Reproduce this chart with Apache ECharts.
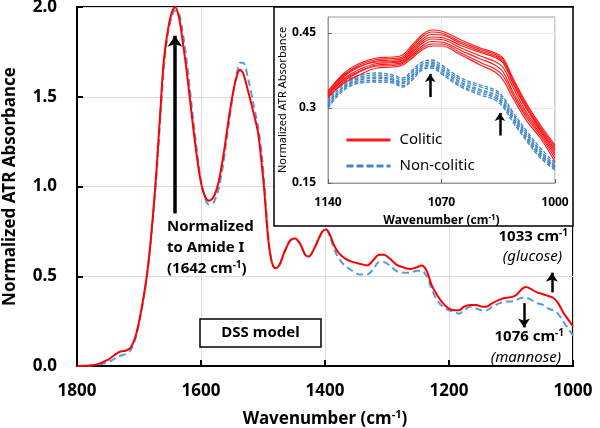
<!DOCTYPE html>
<html><head><meta charset="utf-8">
<script src="https://cdn.jsdelivr.net/npm/echarts@6.0.0/dist/echarts.min.js"></script>
<style>html,body{margin:0;padding:0;background:#fff}#c{width:600px;height:428px}</style>
</head><body><div id="c"></div>
<script>
const FONT = 'Noto Sans';

// ---- main spectrum ----
const wnMain = [1800,1780,1765,1750,1740,1732,1722,1714,1706,1698,
  1690,1684,1678,1672,1666,1660,1653,1647,1642,1636,
  1630,1623,1616,1608,1600,1593,1587,1580,1572,1564,
  1556,1548,1541,1537,1532,1524,1516,1508,1502,1498,
  1494,1490,1485,1480,1474,1466,1456,1448,1440,1432,
  1426,1418,1410,1404,1398,1392,1385,1378,1368,1356,
  1344,1332,1322,1313,1305,1296,1285,1274,1263,1252,
  1244,1236,1228,1220,1210,1200,1190,1184,1176,1166,
  1156,1146,1140,1130,1118,1108,1098,1090,1082,1076,
  1068,1058,1048,1040,1032,1024,1016,1008,1000];
const colitic = [0,0.003,0.012,0.035,0.06,0.078,0.085,0.10,0.16,0.28,
  0.44,0.60,0.82,1.08,1.40,1.70,1.88,1.97,2.0,1.95,
  1.82,1.64,1.43,1.20,1.02,0.94,0.92,0.94,1.02,1.17,
  1.36,1.53,1.63,1.65,1.63,1.53,1.42,1.30,1.12,0.98,
  0.80,0.66,0.57,0.545,0.56,0.63,0.70,0.71,0.68,0.62,
  0.61,0.65,0.71,0.75,0.76,0.73,0.67,0.63,0.60,0.58,
  0.57,0.56,0.59,0.62,0.62,0.60,0.565,0.55,0.54,0.55,
  0.56,0.53,0.45,0.40,0.35,0.32,0.31,0.31,0.33,0.34,
  0.34,0.33,0.33,0.35,0.37,0.38,0.385,0.40,0.43,0.44,
  0.43,0.41,0.40,0.39,0.38,0.35,0.30,0.26,0.22];
const nonColitic = [0,0.002,0.008,0.022,0.04,0.055,0.066,0.085,0.15,0.27,
  0.43,0.59,0.80,1.05,1.36,1.66,1.86,1.95,1.98,1.97,
  1.87,1.70,1.48,1.24,1.03,0.93,0.90,0.91,0.98,1.13,
  1.33,1.52,1.65,1.69,1.69,1.60,1.47,1.33,1.18,1.02,
  0.83,0.67,0.57,0.545,0.555,0.63,0.70,0.71,0.68,0.62,
  0.61,0.65,0.71,0.75,0.76,0.72,0.65,0.60,0.56,0.53,
  0.51,0.51,0.54,0.58,0.58,0.56,0.53,0.52,0.52,0.53,
  0.53,0.50,0.43,0.37,0.33,0.31,0.30,0.29,0.31,0.33,
  0.32,0.31,0.31,0.33,0.35,0.36,0.36,0.37,0.38,0.38,
  0.37,0.35,0.34,0.32,0.31,0.29,0.25,0.21,0.17];

// ---- inset spectra ----
const wnInset = [1140,1130,1120,1110,1100,1094,1088,1082,1076,1070,1058,1046,1037,1032,1026,1017,1009,1000];
const coliticInset1 = [0.332,0.370,0.390,0.400,0.402,0.406,0.426,0.446,0.456,0.454,0.436,0.420,0.410,0.400,0.360,0.306,0.266,0.226];
const coliticInset2 = [0.330,0.366,0.387,0.397,0.399,0.402,0.422,0.442,0.452,0.450,0.432,0.417,0.407,0.397,0.356,0.302,0.262,0.222];
const coliticInset3 = [0.326,0.363,0.383,0.394,0.396,0.399,0.418,0.437,0.447,0.446,0.429,0.414,0.404,0.393,0.352,0.298,0.259,0.218];
const coliticInset4 = [0.334,0.367,0.384,0.392,0.393,0.396,0.414,0.433,0.442,0.441,0.425,0.411,0.401,0.390,0.349,0.295,0.256,0.215];
const coliticInset5 = [0.324,0.359,0.378,0.389,0.391,0.394,0.411,0.429,0.438,0.437,0.420,0.404,0.393,0.381,0.342,0.288,0.253,0.210];
const coliticInset6 = [0.320,0.354,0.373,0.386,0.388,0.391,0.407,0.424,0.433,0.432,0.415,0.398,0.386,0.372,0.333,0.283,0.249,0.205];
const coliticInset7 = [0.327,0.357,0.374,0.384,0.385,0.389,0.404,0.420,0.428,0.428,0.410,0.391,0.378,0.364,0.327,0.278,0.245,0.199];
const coliticInset8 = [0.322,0.350,0.367,0.380,0.382,0.386,0.400,0.416,0.424,0.424,0.406,0.386,0.372,0.356,0.320,0.272,0.240,0.192];
const nonColiticInset1 = [0.316,0.352,0.366,0.370,0.366,0.360,0.376,0.392,0.396,0.386,0.360,0.346,0.336,0.322,0.292,0.252,0.220,0.190];
const nonColiticInset2 = [0.312,0.348,0.362,0.366,0.362,0.356,0.372,0.388,0.392,0.382,0.356,0.342,0.332,0.318,0.288,0.248,0.215,0.186];
const nonColiticInset3 = [0.309,0.344,0.359,0.362,0.358,0.352,0.367,0.385,0.389,0.378,0.352,0.337,0.327,0.313,0.284,0.244,0.211,0.183];
const nonColiticInset4 = [0.306,0.342,0.356,0.359,0.356,0.349,0.364,0.382,0.386,0.375,0.349,0.334,0.323,0.309,0.280,0.240,0.207,0.181];
const nonColiticInset5 = [0.303,0.339,0.353,0.355,0.353,0.345,0.360,0.379,0.383,0.371,0.345,0.330,0.320,0.306,0.276,0.236,0.204,0.178];
const nonColiticInset6 = [0.300,0.336,0.350,0.352,0.350,0.342,0.356,0.376,0.380,0.368,0.342,0.326,0.316,0.302,0.272,0.232,0.200,0.176];

const insetXTicks = [1000, 1070, 1140];
const insetYTicks = [0.15, 0.3, 0.45];

// annotation arrow positions (data coords)
const amideArrow = [[1642, 0.85], [1642, 1.84]];
const glucoseArrow = [[1034, 0.41], [1034, 0.52]];
const mannoseArrow = [[1079, 0.35], [1079, 0.215]];
const insetArrow1 = [[1077, 0.322], [1077, 0.368]];
const insetArrow2 = [[1034, 0.245], [1034, 0.29]];

function pairs(xs, ys) { return xs.map((x, i) => [x, ys[i]]); }
function arrowLine(a) { return [{ coord: a[0] }, { coord: a[1] }]; }

const chart = echarts.init(document.getElementById('c'), null, { renderer: 'canvas' });

const redInsets = [coliticInset1, coliticInset2, coliticInset3, coliticInset4, coliticInset5, coliticInset6, coliticInset7, coliticInset8];
const blueInsets = [nonColiticInset1, nonColiticInset2, nonColiticInset3, nonColiticInset4, nonColiticInset5, nonColiticInset6];

const series = [];
series.push({
  name: 'Non-colitic (full)', type: 'line', xAxisIndex: 0, yAxisIndex: 0,
  data: pairs(wnMain, nonColitic), symbol: 'none', smooth: 0.3, z: 2,
  lineStyle: { color: '#5b9bd5', width: 2, type: [7, 4] },
  markLine: {
    silent: true, symbol: ['none', 'arrow'], symbolSize: 9, animation: false,
    label: { show: false },
    lineStyle: { color: '#000', width: 2.5, type: 'solid' },
    data: [arrowLine(glucoseArrow), arrowLine(mannoseArrow)]
  }
});
series.push({
  name: 'Colitic (full)', type: 'line', xAxisIndex: 0, yAxisIndex: 0,
  data: pairs(wnMain, colitic), symbol: 'none', smooth: 0.3, z: 2,
  lineStyle: { color: '#ff0000', width: 2 },
  markLine: {
    silent: true, symbol: ['none', 'arrow'], symbolSize: 11, animation: false,
    label: { show: false },
    lineStyle: { color: '#000', width: 3.5, type: 'solid' },
    data: [arrowLine(amideArrow)]
  }
});
blueInsets.forEach((arr, i) => {
  const s = {
    name: 'Non-colitic', type: 'line', xAxisIndex: 1, yAxisIndex: 1,
    data: pairs(wnInset, arr), symbol: 'none', smooth: 0.4, z: 10,
    lineStyle: { color: '#4286c8', width: 1.3, type: [4, 2] }
  };
  if (i === 0) {
    s.markLine = {
      silent: true, symbol: ['none', 'arrow'], symbolSize: 8, animation: false,
      label: { show: false },
      lineStyle: { color: '#000', width: 2.5, type: 'solid' },
      data: [arrowLine(insetArrow1), arrowLine(insetArrow2)]
    };
  }
  series.push(s);
});
redInsets.forEach(arr => {
  series.push({
    name: 'Colitic', type: 'line', xAxisIndex: 1, yAxisIndex: 1,
    data: pairs(wnInset, arr), symbol: 'none', smooth: 0.4, z: 11,
    lineStyle: { color: '#ff1a1a', width: 1.2 }
  });
});

const supStyle = (size, weight) => ({ fontSize: size, fontWeight: weight, fontFamily: FONT, color: '#000', verticalAlign: 'top' });
const plain = v => String(v);

const option = {
  animation: false,
  textStyle: { fontFamily: FONT },
  grid: [
    { left: 77, top: 7, width: 496, height: 359, show: true, borderColor: '#000', borderWidth: 2, backgroundColor: 'transparent', containLabel: false, outerBoundsMode: 'none' },
    { left: 328, top: 17, width: 227, height: 166, show: true, borderColor: '#9a9a9a', borderWidth: 1, backgroundColor: 'transparent', z: 6, containLabel: false, outerBoundsMode: 'none' }
  ],
  xAxis: [
    {
      gridIndex: 0, type: 'value', min: 1000, max: 1800, interval: 200, inverse: true,
      axisLine: { lineStyle: { color: '#000', width: 2 } },
      axisTick: { inside: true, length: 6, lineStyle: { color: '#000', width: 2 } },
      axisLabel: { fontSize: 17, fontWeight: 'bold', color: '#000', margin: 17, fontFamily: FONT, formatter: plain },
      splitLine: { show: true, lineStyle: { color: '#dcdcdc', width: 1 } },
      name: 'Wavenumber (cm{sup|-1})', nameLocation: 'middle', nameGap: 43,
      nameTextStyle: { fontSize: 17, fontWeight: 'bold', color: '#000', fontFamily: FONT, lineHeight: 20,
        rich: { sup: supStyle(11, 'bold') } }
    },
    {
      gridIndex: 1, type: 'value', min: 1000, max: 1140, inverse: true, z: 10,
      axisLine: { lineStyle: { color: '#9a9a9a', width: 1 } },
      axisTick: { inside: true, length: 4, customValues: insetXTicks, lineStyle: { color: '#666', width: 1 } },
      axisLabel: { customValues: insetXTicks, fontSize: 12, fontWeight: 'bold', color: '#000', margin: 14, fontFamily: FONT, formatter: plain },
      splitLine: { show: true, lineStyle: { color: '#e6e6e6', width: 1 } },
      name: 'Wavenumber (cm{sup|-1})', nameLocation: 'middle', nameGap: 31,
      nameTextStyle: { fontSize: 12, fontWeight: 'bold', color: '#000', fontFamily: FONT, lineHeight: 14,
        rich: { sup: supStyle(8, 'bold') } }
    }
  ],
  yAxis: [
    {
      gridIndex: 0, type: 'value', min: 0, max: 2, interval: 0.5,
      axisLine: { lineStyle: { color: '#000', width: 2 } },
      axisTick: { inside: true, length: 6, lineStyle: { color: '#000', width: 2 } },
      axisLabel: { fontSize: 17, fontWeight: 'bold', color: '#000', margin: 20, fontFamily: FONT, formatter: v => v.toFixed(1) },
      splitLine: { show: true, lineStyle: { color: '#dcdcdc', width: 1 } },
      name: 'Normalized ATR Absorbance', nameLocation: 'middle', nameGap: 58,
      nameTextStyle: { fontSize: 17, fontWeight: 'bold', color: '#000', fontFamily: FONT }
    },
    {
      gridIndex: 1, type: 'value', min: 0.15, max: 0.482, z: 10,
      axisLine: { lineStyle: { color: '#9a9a9a', width: 1 } },
      axisTick: { inside: true, length: 4, customValues: insetYTicks, lineStyle: { color: '#666', width: 1 } },
      axisLabel: { customValues: insetYTicks, fontSize: 12, fontWeight: 'bold', color: '#000', margin: 12, fontFamily: FONT, formatter: plain },
      splitLine: { show: true, lineStyle: { color: '#e6e6e6', width: 1 } },
      name: 'Normalized ATR Absorbance', nameLocation: 'middle', nameGap: 40,
      nameTextStyle: { fontSize: 11, color: '#000', fontFamily: FONT }
    }
  ],
  legend: {
    data: [
      { name: 'Colitic', lineStyle: { width: 3 }, itemStyle: { opacity: 0 } },
      { name: 'Non-colitic', lineStyle: { width: 3, type: [7, 3] }, itemStyle: { opacity: 0 } }
    ],
    orient: 'vertical', left: 340, top: 127, itemWidth: 44, itemHeight: 14, itemGap: 10,
    textStyle: { fontSize: 15, color: '#000', fontFamily: FONT, lineHeight: 16, padding: [0, 0, 0, 4] },
    selectedMode: false, z: 12
  },
  graphic: [
    { type: 'rect', z: 3, shape: { x: 274, y: 7, width: 299, height: 219 }, style: { fill: '#fff', stroke: '#000', lineWidth: 1.5 } },
    { type: 'rect', z: 3, shape: { x: 200, y: 319, width: 121, height: 28 }, style: { fill: '#fff', stroke: '#000', lineWidth: 1.5 } },
    { type: 'text', z: 12, x: 260.5, y: 333, style: { text: 'DSS model', fontSize: 15, fontWeight: 'bold', fontFamily: FONT, fill: '#000', align: 'center', verticalAlign: 'middle' } },
    { type: 'text', z: 12, x: 167, y: 227, style: { text: 'Normalized', fontSize: 15, fontWeight: 'bold', fontFamily: FONT, fill: '#000', align: 'left', verticalAlign: 'middle' } },
    { type: 'text', z: 12, x: 167, y: 248, style: { text: 'to Amide I', fontSize: 15, fontWeight: 'bold', fontFamily: FONT, fill: '#000', align: 'left', verticalAlign: 'middle' } },
    { type: 'text', z: 12, x: 167, y: 269, style: { text: '(1642 cm{s|-1})', fontSize: 15, fontWeight: 'bold', fontFamily: FONT, fill: '#000', align: 'left', verticalAlign: 'middle', lineHeight: 18,
      rich: { s: { fontSize: 10, fontWeight: 'bold', fontFamily: FONT, fill: '#000', verticalAlign: 'top' } } } },
    { type: 'text', z: 12, x: 568, y: 237, style: { text: '1033 cm{s|-1}', fontSize: 15, fontWeight: 'bold', fontFamily: FONT, fill: '#000', align: 'right', verticalAlign: 'middle', lineHeight: 18,
      rich: { s: { fontSize: 10, fontWeight: 'bold', fontFamily: FONT, fill: '#000', verticalAlign: 'top' } } } },
    { type: 'text', z: 12, x: 562, y: 257, style: { text: '(glucose)', fontSize: 15, fontStyle: 'italic', fontFamily: FONT, fill: '#000', align: 'right', verticalAlign: 'middle' } },
    { type: 'text', z: 12, x: 564, y: 337, style: { text: '1076 cm{s|-1}', fontSize: 15, fontWeight: 'bold', fontFamily: FONT, fill: '#000', align: 'right', verticalAlign: 'middle', lineHeight: 18,
      rich: { s: { fontSize: 10, fontWeight: 'bold', fontFamily: FONT, fill: '#000', verticalAlign: 'top' } } } },
    { type: 'text', z: 12, x: 561, y: 358, style: { text: '(mannose)', fontSize: 15, fontStyle: 'italic', fontFamily: FONT, fill: '#000', align: 'right', verticalAlign: 'middle' } }
  ],
  series: series
};
chart.setOption(option);
</script>
</body></html>
